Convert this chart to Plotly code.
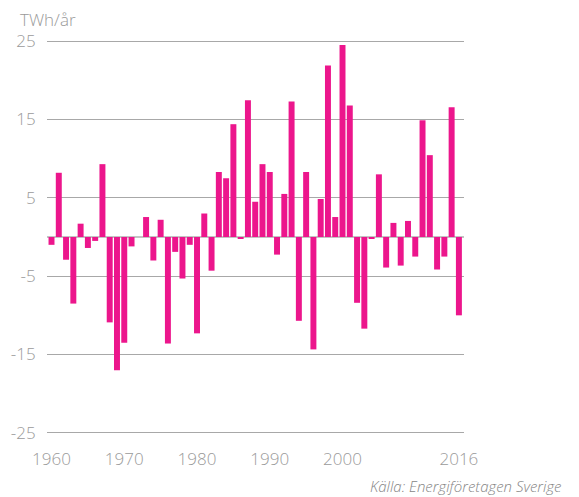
import plotly.graph_objects as go

years = list(range(1960, 2017))
values = [
    -1.0, 8.2, -2.9, -8.5, 1.7, -1.4, -0.5, 9.3, -10.9, -17.0,   # 1960-1969
    -13.5, -1.2, 0.0, 2.55, -3.0, 2.2, -13.6, -1.9, -5.3, -1.0,  # 1970-1979
    -12.3, 3.0, -4.3, 8.3, 7.5, 14.4, -0.2, 17.45, 4.5, 9.3,     # 1980-1989
    8.3, -2.25, 5.5, 17.3, -10.7, 8.3, -14.35, 4.85, 21.9, 2.55, # 1990-1999
    24.5, 16.8, -8.4, -11.7, -0.2, 8.0, -3.9, 1.8, -3.65, 2.05,  # 2000-2009
    -2.5, 14.9, 10.45, -4.15, -2.5, 16.55, -10.0                 # 2010-2016
]
y_ticks = [25, 15, 5, -5, -15, -25]
y_ticktext = ["25", "15", "5", "-5", "-15", "-25"]
x_ticks = [1960, 1970, 1980, 1990, 2000, 2016]
x_ticktext = ["1960", "1970", "1980", "1990", "2000", "2016"]
unit_label = "TWh/år"
source_label = "Källa: Energiföretagen Sverige"

FONT = "Open Sans"
GREY = "#9a9a9a"
BAR = "#EC168C"

fig = go.Figure(go.Bar(x=years, y=values, marker=dict(color=BAR, line=dict(width=0))))

W, H = 579, 497
L, R, T, B = 47, 115, 40, 63
pw = W - L - R
ph = H - T - B

fig.update_layout(
    width=W, height=H,
    margin=dict(l=L, r=R, t=T, b=B, pad=0),
    plot_bgcolor="white", paper_bgcolor="white",
    bargap=0.18,
    showlegend=False,
    font=dict(family=FONT, color=GREY, size=17),
    xaxis=dict(
        range=[1959.38, 2016.7],
        tickvals=x_ticks, ticktext=x_ticktext,
        showgrid=False, zeroline=False, showline=False,
        ticks="outside", ticklen=10, tickcolor="rgba(0,0,0,0)",
        tickfont=dict(family=FONT, size=17, color=GREY, weight=300),
    ),
    yaxis=dict(
        range=[-25.15, 25.15],
        tickvals=y_ticks, ticktext=y_ticktext,
        showgrid=True, gridcolor="#a8a8a8", gridwidth=1,
        zeroline=True, zerolinecolor="#c4c4c4", zerolinewidth=2,
        showline=False,
        ticks="outside", ticklen=7, tickcolor="rgba(0,0,0,0)",
        tickfont=dict(family=FONT, size=17, color=GREY, weight=300),
    ),
    annotations=[
        dict(text=unit_label, xref="paper", yref="paper",
             x=(18 - L) / pw, y=(H - B - 19) / ph, xanchor="left", yanchor="middle",
             showarrow=False, font=dict(family=FONT, size=17, color=GREY, weight=300)),
        dict(text=source_label, xref="paper", yref="paper",
             x=(564 - L) / pw, y=(H - B - 486) / ph, xanchor="right", yanchor="middle",
             showarrow=False,
             font=dict(family=FONT, size=15, color="#858585", weight=300, style="italic")),
    ],
)

fig.write_html("out.html", config={"displayModeBar": False},
               post_script="document.body.style.margin='0px';")
